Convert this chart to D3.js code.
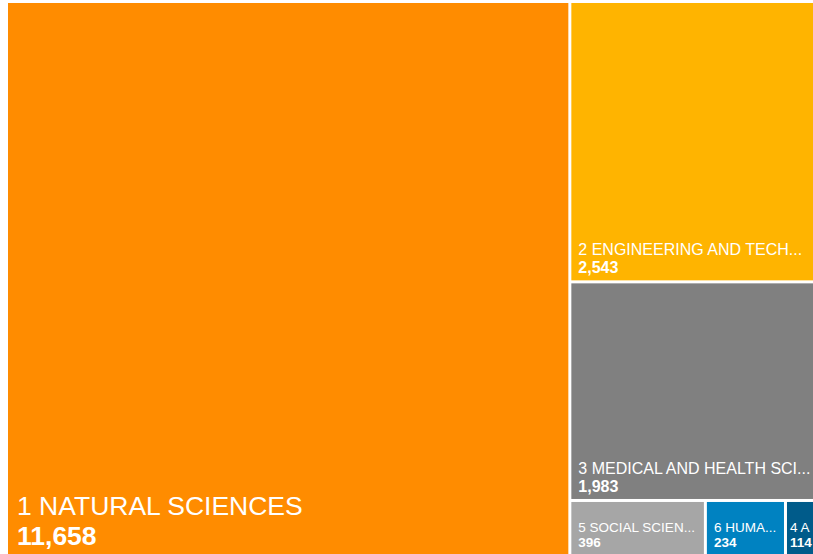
<!DOCTYPE html>
<html>
<head>
<meta charset="utf-8">
<script src="https://cdn.jsdelivr.net/npm/d3@7"></script>
<style>
  body { margin: 0; background: #fff; overflow: hidden; }
  svg { display: block; }
  .lbl { font-family: "Liberation Sans", Arial, sans-serif; fill: #fff; }
</style>
</head>
<body>
<svg id="chart"></svg>
<script>
// fields of science and their counts
const categories = [
    "1 NATURAL SCIENCES",
    "2 ENGINEERING AND TECHNOLOGY",
    "3 MEDICAL AND HEALTH SCIENCES",
    "4 AGRICULTURAL SCIENCES",
    "5 SOCIAL SCIENCES",
    "6 HUMANITIES"
];
const values = [11658, 2543, 1983, 114, 396, 234];
const colors = ["#FF8C00", "#FFB400", "#808080", "#005B8A", "#A6A6A6", "#0082C1"];

const width = 813, height = 554;
const margin = {top: 3, left: 8};
// the tree map runs a bit past the window and gets cut by it
const map_w = 815, map_h = 578;

const svg = d3.select('#chart')
    .attr('width', width)
    .attr('height', height);

const chart = svg.append('g')
    .attr('transform', `translate(${margin.left}, ${margin.top})`);

const cscale = d3.scaleOrdinal(categories, colors);
const fmt = d3.format(',');

const root = d3.hierarchy({children: categories.map((c, i) => ({name: c, value: values[i]}))})
    .sum(d => d.value || 0)
    .sort((a, b) => b.value - a.value);

d3.treemap()
    .tile(d3.treemapSquarify)
    .size([map_w, map_h])
    .paddingInner(3)(root);

const leaves = root.leaves();

const cells = chart.selectAll('g.cell')
    .data(leaves)
    .join('g')
    .attr('class', 'cell')
    .attr('transform', d => `translate(${d.x0}, ${d.y0})`);

cells.append('rect')
    .attr('width', d => d.x1 - d.x0)
    .attr('height', d => d.y1 - d.y0)
    .attr('fill', d => cscale(d.data.name));

const vis_right = width - margin.left;
const vis_bottom = height - margin.top;

// shorten a label until it fits; "..." only while a few letters stay
function fit(sel, maxw) {
    sel.each(function() {
        const t = d3.select(this);
        const full = t.text();
        if (this.getComputedTextLength() <= maxw) return;
        let s = full;
        while (s.length > 4) {
            s = s.slice(0, -1);
            t.text(s.trimEnd() + '...');
            if (this.getComputedTextLength() <= maxw) return;
        }
        s = full;
        while (s.length > 1) {
            s = s.slice(0, -1);
            t.text(s.trimEnd());
            if (this.getComputedTextLength() <= maxw) return;
        }
    });
}

cells.each(function(d) {
    const g = d3.select(this);
    const w = d.x1 - d.x0, h = d.y1 - d.y0;
    const big = w > 300;
    const fs = big ? 26.5 : (h > 120 ? 16 : 13.5);
    const vis_w = Math.min(d.x1, vis_right) - d.x0;
    const pad = big ? 9 : (vis_w > 40 ? 7 : 3);
    const bottom = Math.min(d.y1, vis_bottom) - d.y0;
    const avail = vis_w - pad - 1;
    const vy = bottom - (big ? 9 : 7);

    const title = g.append('text')
        .attr('class', 'lbl')
        .attr('x', pad)
        .attr('y', vy - fs * 1.13)
        .style('font-size', fs + 'px')
        .text(d.data.name);
    fit(title, avail);

    const val = g.append('text')
        .attr('class', 'lbl')
        .attr('x', pad)
        .attr('y', vy)
        .style('font-size', fs + 'px')
        .style('font-weight', 'bold')
        .text(fmt(d.value));
    fit(val, avail + 1);
});
</script>
</body>
</html>
